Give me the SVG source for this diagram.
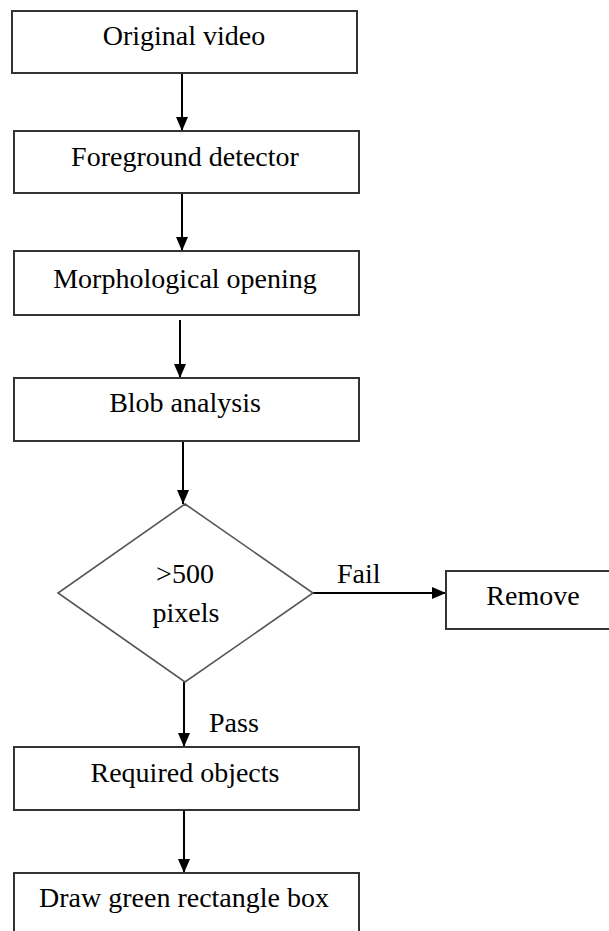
<svg xmlns="http://www.w3.org/2000/svg" width="609" height="931" viewBox="0 0 609 931">
<style>
.box{fill:#fff;stroke:#333;stroke-width:2}
.dia{fill:#fff;stroke:#555;stroke-width:1.6}
.t{font-family:"Liberation Serif","Times New Roman",serif;font-size:28px;fill:#000;text-anchor:middle}
.lbl{font-family:"Liberation Serif","Times New Roman",serif;font-size:28px;fill:#000}
.c{stroke:#000;stroke-width:2;fill:none;marker-end:url(#ah)}
</style>
<defs>
<marker id="ah" viewBox="0 0 14 12" refX="14" refY="6" markerUnits="userSpaceOnUse" markerWidth="14" markerHeight="12" orient="auto">
<path d="M0,0 L14,6 L0,12 z" fill="#000"/>
</marker>
</defs>
<rect width="609" height="931" fill="#fff"/>
<g id="connectors">
<line class="c" x1="182" y1="73" x2="182" y2="131"/>
<line class="c" x1="182" y1="193" x2="182" y2="251"/>
<line class="c" x1="180" y1="320" x2="180" y2="378"/>
<line class="c" x1="183" y1="441" x2="183" y2="504"/>
<line class="c" x1="313" y1="593" x2="446" y2="593"/>
<line class="c" x1="184" y1="682" x2="184" y2="747"/>
<line class="c" x1="184" y1="810" x2="184" y2="873"/>
<text class="lbl" x="337" y="583">Fail</text>
<text class="lbl" x="209" y="732">Pass</text>
</g>
<g id="n1"><rect class="box" x="12" y="11" width="345" height="62"/><text class="t" x="184" y="45">Original video</text></g>
<g id="n2"><rect class="box" x="14" y="131" width="345" height="62"/><text class="t" x="185" y="166">Foreground detector</text></g>
<g id="n3"><rect class="box" x="14" y="251" width="345" height="64"/><text class="t" x="185" y="288">Morphological opening</text></g>
<g id="n4"><rect class="box" x="14" y="378" width="345" height="63"/><text class="t" x="185" y="412">Blob analysis</text></g>
<g id="n5"><polygon class="dia" points="185,504 313,593 185,682 58,593"/><text class="t" x="185" y="583">&gt;500</text><text class="t" x="186" y="622">pixels</text></g>
<g id="n6"><rect class="box" x="446" y="571" width="175" height="58"/><text class="t" x="533" y="605">Remove</text></g>
<g id="n7"><rect class="box" x="14" y="747" width="345" height="63"/><text class="t" x="185" y="782">Required objects</text></g>
<g id="n8"><rect class="box" x="14" y="873" width="345" height="75"/><text class="t" x="184" y="907">Draw green rectangle box</text></g>
</svg>
